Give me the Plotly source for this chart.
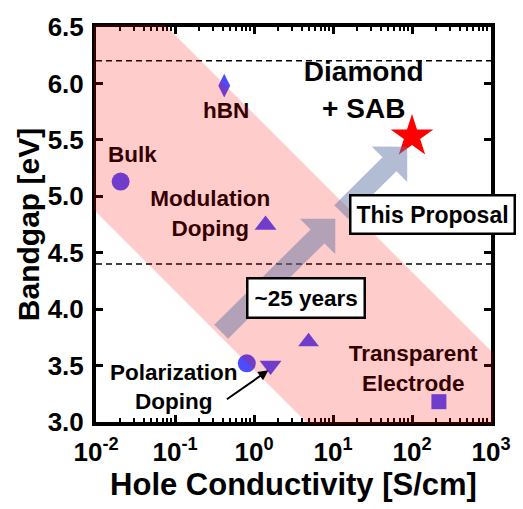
import math
import plotly.graph_objects as go

# ---- data -------------------------------------------------------------
conductivity = [0.42, 0.0205, 1.40, 0.81, 1.62, 4.9, 219]      # S/cm
bandgap = [5.98, 5.13, 4.745, 3.52, 3.50, 3.71, 3.18]           # eV
symbols = ["diamond-tall", "circle", "triangle-up", "circle",
           "triangle-down", "triangle-up", "square"]
marker_sizes = [17, 18, 19, 18, 19, 18, 15]

proposal_conductivity = [100]
proposal_bandgap = [5.53]

dashed_levels = [6.2, 4.4]

x_tick_vals = [0.01, 0.1, 1, 10, 100, 1000]
x_tick_text = ["10<sup>-2</sup>", "10<sup>-1</sup>", "10<sup>0</sup>",
               "10<sup>1</sup>", "10<sup>2</sup>", "10<sup>3</sup>"]
y_tick_vals = [3.0, 3.5, 4.0, 4.5, 5.0, 5.5, 6.0, 6.5]

# trend band: bandgap = intercept - slope * (log10(sigma) + 2)
band_slope = 0.7
band_upper_intercept = 7.13
band_lower_intercept = 4.86

# progress arrows (tail, tip) in (S/cm, eV)
arrows = [((0.384, 3.80), (10.7, 4.80)),
          ((12.7, 4.86), (87.0, 5.44))]

# ---- layout geometry --------------------------------------------------
W, H = 523, 509
ML, MR, MT, MB = 96, 26, 18, 87
PW, PH = W - ML - MR, H - MT - MB
LX0, LX1 = -2.0, 3.0
Y0, Y1 = 3.0, 6.5
FONT = "Liberation Sans, Arial, sans-serif"


def to_px(logx, y):
    """data -> pixel offsets inside plot area (y up)"""
    return ((logx - LX0) / (LX1 - LX0) * PW, (y - Y0) / (Y1 - Y0) * PH)


def px_to_paper(px, py):
    return (px / PW, py / PH)


def clip_polygon(poly, xmin, xmax, ymin, ymax):
    def clip(points, inside, intersect):
        out = []
        for i in range(len(points)):
            cur, prev = points[i], points[i - 1]
            if inside(cur):
                if not inside(prev):
                    out.append(intersect(prev, cur))
                out.append(cur)
            elif inside(prev):
                out.append(intersect(prev, cur))
        return out

    def ix(p, q, xv):
        t = (xv - p[0]) / (q[0] - p[0])
        return (xv, p[1] + t * (q[1] - p[1]))

    def iy(p, q, yv):
        t = (yv - p[1]) / (q[1] - p[1])
        return (p[0] + t * (q[0] - p[0]), yv)

    pts = poly
    pts = clip(pts, lambda p: p[0] >= xmin, lambda p, q: ix(p, q, xmin))
    pts = clip(pts, lambda p: p[0] <= xmax, lambda p, q: ix(p, q, xmax))
    pts = clip(pts, lambda p: p[1] >= ymin, lambda p, q: iy(p, q, ymin))
    pts = clip(pts, lambda p: p[1] <= ymax, lambda p, q: iy(p, q, ymax))
    return pts


def path_from(points):
    return "M " + " L ".join(f"{x:.5f},{y:.5f}" for x, y in points) + " Z"


# pink band polygon (paper coords), clipped just past the frame
band = []
for lx in (-4, 5):
    band.append(to_px(lx, band_upper_intercept - band_slope * (lx + 2)))
for lx in (5, -4):
    band.append(to_px(lx, band_lower_intercept - band_slope * (lx + 2)))
pad = 2.0
band = clip_polygon(band, -pad, PW + pad, -pad, PH + pad)
band_paper = [px_to_paper(*p) for p in band]


def fat_arrow(tail, tip, half_w=10.0, head_hw=25.5, head_len=25.5):
    tx, ty = to_px(math.log10(tail[0]), tail[1])
    hx, hy = to_px(math.log10(tip[0]), tip[1])
    L = math.hypot(hx - tx, hy - ty)
    ux, uy = (hx - tx) / L, (hy - ty) / L
    nx, ny = -uy, ux
    neckx, necky = hx - ux * head_len, hy - uy * head_len
    pts = [
        (tx + nx * half_w, ty + ny * half_w),
        (neckx + nx * half_w, necky + ny * half_w),
        (neckx + nx * head_hw, necky + ny * head_hw),
        (hx, hy),
        (neckx - nx * head_hw, necky - ny * head_hw),
        (neckx - nx * half_w, necky - ny * half_w),
        (tx - nx * half_w, ty - ny * half_w),
    ]
    return [px_to_paper(*p) for p in pts]


# ---- figure -----------------------------------------------------------
fig = go.Figure()

fig.add_trace(go.Scatter(
    x=conductivity, y=bandgap, mode="markers",
    marker=dict(symbol=symbols, size=marker_sizes, color="#0000FF",
                line=dict(width=0)),
    showlegend=False, hoverinfo="skip"))

fig.add_trace(go.Scatter(
    x=proposal_conductivity, y=proposal_bandgap, mode="markers",
    marker=dict(symbol="star", size=32, color="#FF0000", line=dict(width=0)),
    showlegend=False, hoverinfo="skip"))

# category labels (drawn in the trace layer so the band tints them)
label_text = ["hBN", "Bulk", "Modulation<br>Doping", "Polarization<br>Doping",
              "Transparent<br>Electrode"]
label_x = [0.443, 0.0289, 0.279, 0.0966, 103.5]
label_y = [5.746, 5.356, 4.83, 3.294, 3.458]
fig.add_trace(go.Scatter(
    x=label_x, y=label_y, mode="text", text=label_text,
    textposition="middle center",
    textfont=dict(family=FONT, size=22.5, color="black", weight="bold"),
    showlegend=False, hoverinfo="skip", cliponaxis=False))

fig.add_trace(go.Scatter(
    x=[24.5], y=[5.92], mode="text", text=["Diamond<br>+ SAB"],
    textposition="middle center",
    textfont=dict(family=FONT, size=28, color="black", weight="bold"),
    showlegend=False, hoverinfo="skip", cliponaxis=False))

shapes = []
for lvl in dashed_levels:
    shapes.append(dict(type="line", xref="paper", x0=0, x1=1, yref="y",
                       y0=lvl, y1=lvl, layer="above",
                       line=dict(color="black", width=1.5, dash="6px,4px")))
shapes.append(dict(type="path", xref="paper", yref="paper",
                   path=path_from(band_paper), layer="above",
                   fillcolor="rgba(255,0,0,0.2)", line=dict(width=0)))
for tail, tip in arrows:
    shapes.append(dict(type="path", xref="paper", yref="paper",
                       path=path_from(fat_arrow(tail, tip)), layer="above",
                       fillcolor="rgba(95,115,160,0.48)", line=dict(width=0)))

annotations = [
    dict(x=math.log10(1.52), y=3.458, xref="x", yref="y", text="",
         showarrow=True, ax=-43, ay=30, arrowhead=2, arrowsize=1,
         arrowwidth=2, arrowcolor="black", standoff=0),
    dict(x=0.656, y=4.10, xref="x", yref="y", text="~25 years",
         showarrow=False, bgcolor="white", bordercolor="black",
         borderwidth=2.5, borderpad=6,
         font=dict(family=FONT, size=22.5, color="black", weight="bold")),
    dict(x=2.265, y=4.836, xref="x", yref="y", text="This Proposal",
         showarrow=False, bgcolor="white", bordercolor="black",
         borderwidth=2.5, borderpad=5,
         font=dict(family=FONT, size=23, color="black", weight="bold")),
]

fig.update_layout(
    width=W, height=H,
    margin=dict(l=ML, r=MR, t=MT, b=MB, pad=0),
    paper_bgcolor="white", plot_bgcolor="white",
    shapes=shapes, annotations=annotations,
    font=dict(family=FONT, color="black"),
)

fig.update_xaxes(
    type="log", range=[LX0, LX1],
    tickvals=x_tick_vals, ticktext=x_tick_text,
    ticks="inside", ticklen=7, tickwidth=2.5, tickcolor="black",
    minor=dict(ticks="inside", ticklen=4, tickwidth=2, tickcolor="black",
               dtick="D1", showgrid=False),
    showline=True, linecolor="black", linewidth=4, mirror="allticks",
    showgrid=False, zeroline=False, ticklabelstandoff=4,
    tickfont=dict(family=FONT, size=26, color="black", weight="bold"),
    title=dict(text="Hole Conductivity [S/cm]", standoff=4,
               font=dict(family=FONT, size=31, color="black", weight="bold")),
)
fig.update_yaxes(
    range=[Y0, Y1], tickvals=y_tick_vals, tickformat=".1f",
    ticks="inside", ticklen=7, tickwidth=2.5, tickcolor="black",
    showline=True, linecolor="black", linewidth=4, mirror="allticks",
    showgrid=False, zeroline=False, ticklabelstandoff=3,
    tickfont=dict(family=FONT, size=26, color="black", weight="bold"),
    title=dict(text="Bandgap [eV]", standoff=0,
               font=dict(family=FONT, size=30, color="black", weight="bold")),
)

fig.write_html("out.html")
